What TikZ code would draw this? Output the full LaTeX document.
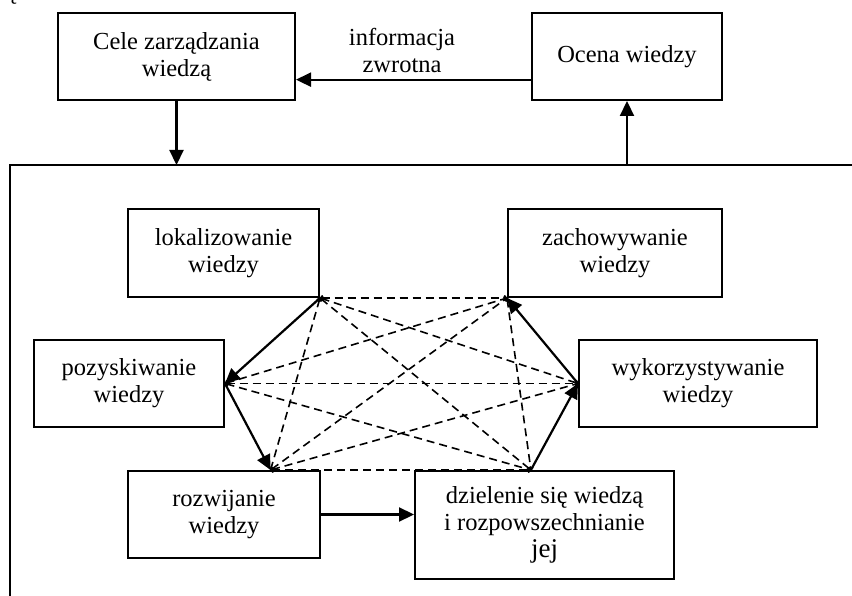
\documentclass[tikz,border=0pt]{standalone}
\usepackage{fontspec}
\setmainfont{Liberation Serif}
\usetikzlibrary{arrows.meta,calc}

\tikzset{
  box/.style={draw, line width=2pt, rectangle, inner sep=0pt, align=center,
              font=\fontsize{24.5}{27}\selectfont},
  flow/.style={line width=2.2pt, -{Triangle[length=15pt,width=14pt]}},
  link/.style={line width=1.6pt, dash pattern=on 8pt off 5pt,
               {To[length=3pt,width=6pt]}-{To[length=3pt,width=6pt]}},
  lbl/.style={align=center, inner sep=0pt, font=\fontsize{24.5}{27}\selectfont},
}

\begin{document}
\begin{tikzpicture}[x=1pt, y=-1pt]
  \useasboundingbox (0,0) rectangle (852,596);
  \clip (0,0) rectangle (852,596);

  % stray glyph at the top-left corner
  \node[anchor=base, inner sep=0pt, font=\fontsize{24.5}{27}\selectfont] (mark) at (12,0) {ę};

  % outer level
  \node[box, minimum width=237pt, minimum height=87pt] (cele) at (176.5,56.5)
    {Cele zarządzania\\wiedzą};
  \node[box, minimum width=190pt, minimum height=87pt] (ocena) at (627,56.5)
    {Ocena wiedzy};
  \node[lbl] (info) at (402,50) {informacja\\zwrotna};

  % frame around the knowledge processes
  \coordinate (frameTL) at (10,165);
  \coordinate (frameBL) at (10,620);
  \coordinate (frameTR) at (880,165);
  \draw[line width=2pt] (frameBL) -- (frameTL) -- (frameTR);

  % knowledge processes
  \node[box, minimum width=191pt, minimum height=88pt] (lok) at (223.5,253)
    {lokalizowanie\\wiedzy};
  \node[box, minimum width=214pt, minimum height=88pt] (zach) at (615,253)
    {zachowywanie\\wiedzy};
  \node[box, minimum width=190pt, minimum height=87pt] (poz) at (129,383.5)
    {pozyskiwanie\\wiedzy};
  \node[box, minimum width=238pt, minimum height=87pt] (wyk) at (698,383.5)
    {wykorzystywanie\\wiedzy};
  \node[box, minimum width=192pt, minimum height=87pt] (roz) at (224,514.5)
    {rozwijanie\\wiedzy};
  \node[box, minimum width=259pt, minimum height=108pt] (dziel) at (544.5,525)
    {dzielenie się wiedzą\\i rozpowszechnianie\\{\fontsize{27}{28}\selectfont jej}};

  % connection points
  \coordinate (L) at (lok.south east);
  \coordinate (Z) at (zach.south west);
  \coordinate (P) at (poz.east);
  \coordinate (W) at (wyk.west);
  \coordinate (R) at ($(roz.north west)!0.74!(roz.north east)$);
  \coordinate (D) at ($(dziel.north west)!0.448!(dziel.north east)$);
  \coordinate (fb) at ($(ocena.south west)!0.24!(ocena.north west)$);

  % outer flows
  \draw[flow] (fb) -- (fb -| cele.east);
  \draw[flow] (cele.south) -- (cele.south |- frameTL);
  \draw[flow] (ocena.south |- frameTL) -- (ocena.south);

  % links between every pair of processes
  \foreach \a/\b in {L/Z, L/W, L/D, L/R, P/Z, P/W, P/D, R/Z, R/W, R/D, Z/D}
    \draw[link] (\a) -- (\b);

  % main cycle
  \draw[flow] (L) -- (P);
  \draw[flow] (P) -- (R);
  \draw[flow] (roz.east) -- (roz.east -| dziel.west);
  \draw[flow] (D) -- (W);
  \draw[flow] (W) -- (Z);
\end{tikzpicture}
\end{document}
